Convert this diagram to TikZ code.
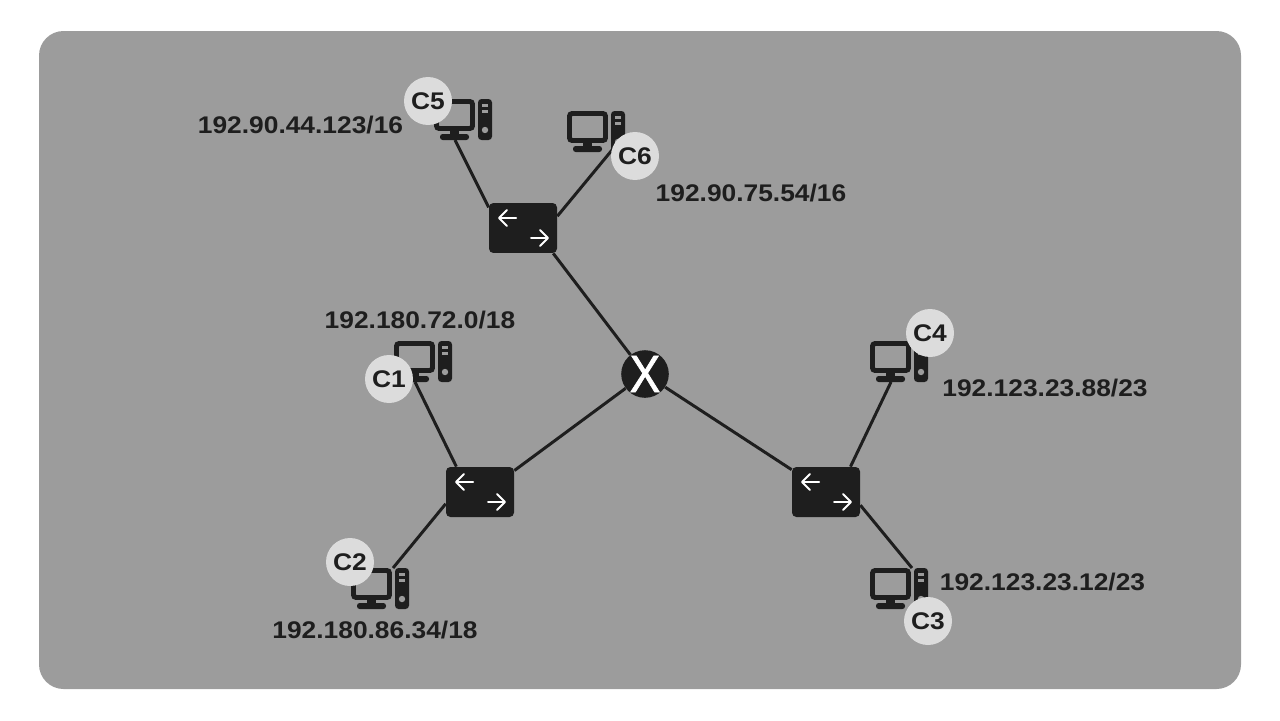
\documentclass[tikz,border=0pt]{standalone}
\usepackage{fontspec}
\setmainfont[FakeStretch=1.095]{Liberation Sans}
\newfontfamily\crossfont[FakeStretch=0.88,FakeBold=1.2]{Liberation Sans}
\usetikzlibrary{arrows.meta,backgrounds}
\definecolor{panel}{HTML}{9C9C9C}
\definecolor{ink}{HTML}{1E1E1E}
\definecolor{badgefill}{HTML}{DCDCDC}
\tikzset{
    wire/.style={draw=ink, line width=1.7pt},
    addr/.style={font=\fontsize{13.7}{16}\selectfont\bfseries, text=ink, inner sep=0pt},
    badge/.style={circle, fill=badgefill, minimum size=0.96cm, inner sep=0pt,
        font=\fontsize{13.7}{16}\selectfont\bfseries, text=ink},
    swbox/.style={fill=ink, rounded corners=2.5pt, minimum width=1.36cm, minimum height=1cm, inner sep=0pt},
    swarrow/.style={draw=white, line width=1.15pt, line cap=round,
        -{Straight Barb[length=4.5pt,width=9pt,round]}},
    netswitch/.pic={
        \node[swbox] (-box) at (0, 0) {};
        \coordinate (-l) at (-7, -10);
        \coordinate (-r) at (8, 10);
        \draw[swarrow] (-l) -- ++(-18, 0);
        \draw[swarrow] (-r) -- ++(18, 0);
    },
    computer/.pic={
        \coordinate (-base) at (21, 41);
        \coordinate (-top) at (42, 0);
        \coordinate (-tower) at (50, 33);
        \draw[ink, line width=2.8pt, rounded corners=1.5pt] (2.5, 2.5) rectangle (38.5, 29.5);
        \fill[ink] (16, 31) rectangle (25, 37);
        \fill[ink, rounded corners=1.5pt] (6, 35) rectangle (35, 41);
        \fill[ink, rounded corners=2pt] (44, 0) rectangle (58, 41);
        \fill[panel] (48, 5) rectangle (54, 8);
        \fill[panel] (48, 11) rectangle (54, 14);
        \fill[panel] (51, 31) circle[radius=3.2];
    },
}
\begin{document}
\begin{tikzpicture}[x=0.02cm, y=-0.02cm]
    \useasboundingbox (0, 0) rectangle (1280, 720);

    \node[circle, fill=ink, minimum size=0.92cm, inner sep=0pt, text=white,
        font=\fontsize{30}{30}\selectfont\crossfont] (router) at (645, 374) {X};

    \pic (swtop) at (523, 228) {netswitch};
    \pic (swleft) at (480, 492) {netswitch};
    \pic (swright) at (826, 492) {netswitch};

    \pic (pcone) at (394, 341) {computer};
    \pic (pctwo) at (351, 568) {computer};
    \pic (pcthree) at (870, 568) {computer};
    \pic (pcfour) at (870, 341) {computer};
    \pic (pcfive) at (434, 99) {computer};
    \pic (pcsix) at (567, 111) {computer};

    \node[badge] (cone) at (389, 379) {C1};
    \node[badge] (ctwo) at (350, 562) {C2};
    \node[badge] (cthree) at (928, 621) {C3};
    \node[badge] (cfour) at (930, 333) {C4};
    \node[badge] (cfive) at (428, 101) {C5};
    \node[badge] (csix) at (635, 156) {C6};

    \node[addr] (aone) at (420, 320) {192.180.72.0/18};
    \node[addr] (atwo) at (375, 630) {192.180.86.34/18};
    \node[addr] (athree) at (1042.5, 582) {192.123.23.12/23};
    \node[addr] (afour) at (1045, 388) {192.123.23.88/23};
    \node[addr] (afive) at (300.5, 125) {192.90.44.123/16};
    \node[addr] (asix) at (751, 193) {192.90.75.54/16};

    \begin{pgfonlayer}{background}
        \fill[panel, rounded corners=14pt] (39, 31) rectangle (1241, 689);

        \draw[wire] (router) -- (swtop-box.-40);
        \draw[wire] (router) -- (swleft-box.32);
        \draw[wire] (router) -- (swright-box.147);
        \draw[wire] (swtop-box.149) -- (pcfive-base);
        \draw[wire] (swtop-box.19) -- (pcsix-tower);
        \draw[wire] (swleft-box.133) -- (pcone-base);
        \draw[wire] (swleft-box.199) -- (pctwo-top);
        \draw[wire] (swright-box.46) -- (pcfour-base);
        \draw[wire] (swright-box.-21) -- (pcthree-top);
    \end{pgfonlayer}
\end{tikzpicture}
\end{document}
